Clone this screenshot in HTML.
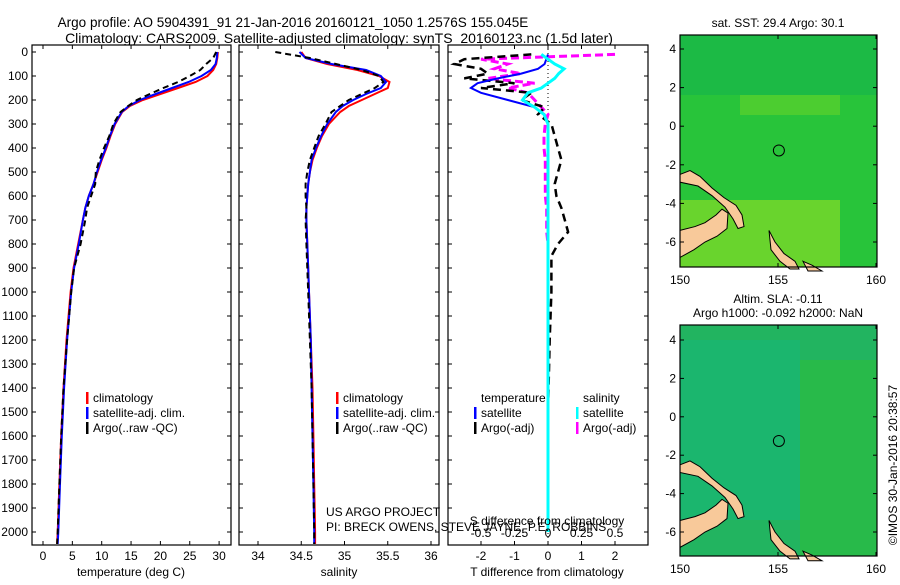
<!DOCTYPE html>
<html><head><meta charset="utf-8"><style>
body{margin:0;background:#fff;}
svg text{font-family:"Liberation Sans",sans-serif;font-size:12px;fill:#000;}
svg text.ttl{font-size:14px;}
</style></head><body>
<svg id="c" width="900" height="580" viewBox="0 0 900 580" xmlns="http://www.w3.org/2000/svg">
<text class="ttl" x="293" y="27" text-anchor="middle" style="font-size:13.5px">Argo profile: AO 5904391_91 21-Jan-2016 20160121_1050 1.2576S 155.045E</text>
<text class="ttl" x="339" y="43" text-anchor="middle">Climatology: CARS2009. Satellite-adjusted climatology: synTS_20160123.nc (1.5d later)</text>
<g id="maps"></g>
<g id="plots"></g>
</svg>
<script>
// ---- data ----
const depths = [0,25,50,75,100,125,150,175,200,225,250,300,350,400,450,500,550,600,650,700,800,900,1000,1200,1400,1600,1800,2000,2050];
const tClim  = [29.8,29.7,29.5,29.0,28.0,26.0,23.0,20.0,17.0,14.8,13.5,12.3,11.5,10.8,10.0,9.3,8.6,7.8,7.2,6.8,6.0,5.2,4.7,4.0,3.5,3.1,2.8,2.5,2.4];
const tSat   = [29.7,29.6,29.4,28.6,27.0,24.8,22.0,19.2,16.5,14.6,13.4,12.2,11.4,10.7,9.9,9.2,8.6,7.8,7.2,6.8,6.1,5.3,4.8,4.1,3.6,3.2,2.9,2.6,2.5];
const tArgo  = [29.5,29.0,27.8,26.8,25.0,23.0,20.5,18.2,16.0,14.5,13.2,12.0,11.3,10.4,9.6,9.0,8.9,8.2,7.5,7.2,6.4,5.3,4.8,4.1,3.5,3.1,2.8,2.5,2.4];
const sClim  = [34.50,34.55,34.80,35.15,35.40,35.52,35.50,35.35,35.20,35.05,34.95,34.82,34.74,34.68,34.63,34.60,34.58,34.57,34.56,34.56,34.57,34.58,34.59,34.61,34.63,34.64,34.65,34.66,34.66];
const sSat   = [34.48,34.55,34.85,35.25,35.42,35.48,35.42,35.25,35.10,34.98,34.90,34.80,34.73,34.67,34.62,34.60,34.58,34.57,34.56,34.56,34.57,34.58,34.59,34.61,34.62,34.63,34.64,34.65,34.65];
const sArgo  = [34.20,34.60,34.90,35.20,35.40,35.45,35.35,35.20,35.05,34.95,34.85,34.78,34.70,34.65,34.60,34.57,34.55,34.55,34.56,34.55,34.56,34.57,34.58,34.60,34.62,34.63,34.64,34.65,34.65];
const diffDepths = [10,30,50,70,90,110,130,150,170,200,230,260,300,350,400,450,500,550,600,650,700,750,800,850,900,1000,1200,1500,2000];
const dTSat  = [0,-0.05,-0.1,-0.3,-0.8,-1.5,-2.1,-2.3,-2.0,-1.2,-0.4,-0.1,0,0,0,0,0,0,0,0,0,0,0,0,0,0,0,0,0];
const dTArgo = [-0.5,-2.5,-2.8,-2.0,-1.8,-2.5,-1.0,-2.0,-0.5,-0.8,-0.1,-0.3,0.1,0.2,0.3,0.4,0.3,0.2,0.25,0.4,0.5,0.6,0.3,0.1,0.1,0.1,0.05,0,0];
const dSSat  = [-0.05,0,0.05,0.12,0.08,0.05,0,-0.05,-0.15,-0.19,-0.1,-0.03,0,0,0,0,0,0,0,0,0,0,0,0,0,0,0,0,0];
const dSArgo = [0.5,-0.5,-0.3,-0.4,-0.2,-0.45,-0.1,-0.3,-0.15,-0.1,-0.05,0,-0.02,-0.03,-0.03,-0.02,-0.02,-0.02,-0.02,-0.01,-0.01,-0.01,0,0,0,0,0,0,0];
const depthTicks = [0,100,200,300,400,500,600,700,800,900,1000,1100,1200,1300,1400,1500,1600,1700,1800,1900,2000];
const tTicks = [0,5,10,15,20,25,30];
const sTicks = [34,34.5,35,35.5,36];
const dTTicks = [-2,-1,0,1,2];
const dSTicks = [-0.5,-0.25,0,0.25,0.5];
const lonTicks = [150,155,160];
const latTicks = [4,2,0,-2,-4,-6];

const NS="http://www.w3.org/2000/svg";
function mk(tag,attrs,parent,txt){const e=document.createElementNS(NS,tag);for(const k in attrs)e.setAttribute(k,attrs[k]);if(txt!==undefined)e.textContent=txt;parent.appendChild(e);return e;}
const P=document.getElementById('plots'), M=document.getElementById('maps');
const yD = d => 52 + 0.24*d;
const xT = t => 43 + 5.87*t;
const xS = s => 258 + 86.5*(s-34);
const xDT = v => 548 + 33.5*v;
const xDS = v => 548 + 134*v;

function panel(x0,x1,name){
  const r=mk('rect',{x:x0,y:45,width:x1-x0,height:500,fill:'#fff',stroke:'#000','stroke-width':1.2},P);
  
  
}
panel(32,231,'temperature-panel'); panel(239,439,'salinity-panel'); panel(448,648,'difference-panel');

function line(xs,ys,xf,color,w,dash,name){
  const pts=xs.map((v,i)=>xf(v).toFixed(1)+','+yD(ys[i]).toFixed(1)).join(' ');
  const e=mk('polyline',{points:pts,fill:'none',stroke:color,'stroke-width':w},P);
  if(dash)e.setAttribute('stroke-dasharray',dash);
  
  
}
line(tClim,depths,xT,'#f00',2,null,'temp-climatology-line');
line(tSat,depths,xT,'#00f',2,null,'temp-satellite-line');
line(tArgo,depths,xT,'#000',2,'6,4','temp-argo-line');
line(sClim,depths,xS,'#f00',2,null,'sal-climatology-line');
line(sSat,depths,xS,'#00f',2,null,'sal-satellite-line');
line(sArgo,depths,xS,'#000',2,'6,4','sal-argo-line');
mk('line',{x1:548,y1:45,x2:548,y2:545,stroke:'#000','stroke-dasharray':'1,3'},P);
line(dSArgo,diffDepths,xDS,'#f0f',3,'8,4','sal-diff-argo-line');
line(dTArgo,diffDepths,xDT,'#000',2.5,'8,5','temp-diff-argo-line');
line(dTSat,diffDepths,xDT,'#00f',2,null,'temp-diff-satellite-line');
line(dSSat,diffDepths,xDS,'#0ff',3,null,'sal-diff-satellite-line');

depthTicks.forEach(d=>{
  const y=yD(d);
  [[32,1],[231,-1],[239,1],[439,-1],[448,1],[648,-1]].forEach(([x,s])=>mk('line',{x1:x,y1:y,x2:x+4*s,y2:y,stroke:'#000'},P));
  const t=mk('text',{x:28,y:y+4,'text-anchor':'end'},P,String(d));
  
  
});
function xticks(arr,f,yLab,name,top){
  arr.forEach(v=>{
    const x=f(v);
    mk('line',{x1:x,y1:545,x2:x,y2:541,stroke:'#000'},P);
    if(top) mk('line',{x1:x,y1:45,x2:x,y2:49,stroke:'#000'},P);
    const t=mk('text',{x:x,y:yLab,'text-anchor':'middle'},P,String(v));
    
    
  });
}
xticks(tTicks,xT,560,'temp-tick-label',true);
xticks(sTicks,xS,560,'sal-tick-label',true);
xticks(dTTicks,xDT,560,'tdiff-tick-label',true);
dSTicks.forEach(v=>{const t=mk('text',{x:xDS(v),y:537,'text-anchor':'middle'},P,String(v));
  
  });

function txt(x,y,s,name,anchor){const t=mk('text',{x:x,y:y,'text-anchor':anchor||'start'},P,s);
  
  return t;}
txt(131,576,'temperature (deg C)','temp-axis-title','middle');
txt(339,576,'salinity','sal-axis-title','middle');
txt(547,576,'T difference from climatology','tdiff-axis-title','middle');
txt(547,525,'S difference from climatology','sdiff-axis-title','middle');
txt(326,516,'US ARGO PROJECT','credit-line-1');
txt(326,531,'PI: BRECK OWENS, STEVE JAYNE, P.E. ROBBINS','credit-line-2');

function legend(x,y,items,name){
  items.forEach((it,i)=>{
    if(it[0]) mk('rect',{x:x,y:y+i*15-10,width:2.5,height:12,fill:it[0]},P);
    txt(x+7,y+i*15,it[1],name);
  });
}
legend(86,402,[['#f00','climatology'],['#00f','satellite-adj. clim.'],['#000','Argo(..raw -QC)']],'temp-legend-entry');
legend(336,402,[['#f00','climatology'],['#00f','satellite-adj. clim.'],['#000','Argo(..raw -QC)']],'sal-legend-entry');
legend(474,402,[[null,'temperature'],['#00f','satellite'],['#000','Argo(-adj)']],'tdiff-legend-entry');
legend(576,402,[[null,'salinity'],['#0ff','satellite'],['#f0f','Argo(-adj)']],'sdiff-legend-entry');

function map(top,bot,yFour,ySix,base,overlays,title,name){
  const g=mk('g',{},M);
  
  
  const lx=v=>680+19.6*(v-150), ly=v=>yFour+(4-v)*(ySix-yFour)/10;
  mk('rect',{x:680,y:top,width:197,height:bot-top,fill:base},g);
  overlays.forEach(o=>mk('rect',Object.assign({},o),g));
  const land=[[[680,ly(-2.5)],[690,ly(-2.3)],[700,ly(-2.6)],[712,ly(-3.2)],[724,ly(-3.7)],[736,ly(-4.1)],[742,ly(-4.6)],[744,ly(-5.2)],[738,ly(-5.3)],[733,ly(-4.8)],[725,ly(-4.2)],[712,ly(-3.6)],[698,ly(-3.1)],[680,ly(-2.9)]],
   [[680,ly(-5.4)],[695,ly(-5.2)],[705,ly(-5.0)],[716,ly(-4.6)],[722,ly(-4.3)],[728,ly(-4.5)],[727,ly(-5.3)],[717,ly(-5.7)],[705,ly(-6.0)],[694,ly(-6.4)],[680,ly(-6.8)]],
   [[769,ly(-5.4)],[775,ly(-6.0)],[784,ly(-6.6)],[795,ly(-7.0)],[799,ly(-7.4)],[790,ly(-7.4)],[780,ly(-7.0)],[771,ly(-6.4)]],
   [[803,ly(-7.0)],[812,ly(-7.2)],[822,ly(-7.5)],[808,ly(-7.5)]]];
  land.forEach(p=>mk('polygon',{points:p.map(q=>q.join(',')).join(' '),fill:'#f8c99a',stroke:'#000','stroke-width':1},g));
  mk('circle',{cx:lx(155.045),cy:ly(-1.2576),r:5.5,fill:'none',stroke:'#000','stroke-width':1},g);
  mk('rect',{x:680,y:top,width:197,height:bot-top,fill:'none',stroke:'#000','stroke-width':1.2},g);
  latTicks.forEach(v=>{const y=ly(v);
    mk('line',{x1:680,y1:y,x2:684,y2:y,stroke:'#000'},g);mk('line',{x1:877,y1:y,x2:873,y2:y,stroke:'#000'},g);
    const t=mk('text',{x:676,y:y+4,'text-anchor':'end'},g,String(v));
    
    });
  lonTicks.forEach(v=>{const x=lx(v);
    mk('line',{x1:x,y1:top,x2:x,y2:top+4,stroke:'#000'},g);mk('line',{x1:x,y1:bot,x2:x,y2:bot-4,stroke:'#000'},g);
    const t=mk('text',{x:x,y:bot+17,'text-anchor':'middle'},g,String(v));
    
    });
  title.forEach((s,i)=>{const t=mk('text',{x:778,y:top-8-(title.length-1-i)*14,'text-anchor':'middle'},g,s);
    
    });
}
map(35,267,49,242,'#28c43a',[
  {x:680,y:35,width:197,height:60,fill:'#10b050',opacity:0.5},
  {x:680,y:200,width:160,height:67,fill:'#b8e820',opacity:0.45},
  {x:740,y:95,width:100,height:20,fill:'#90e020',opacity:0.35}
],['sat. SST: 29.4 Argo: 30.1'],'sst-map');
map(325,556,340,532,'#22b460',[
  {x:680,y:340,width:120,height:180,fill:'#14b880',opacity:0.45},
  {x:800,y:360,width:77,height:196,fill:'#30c030',opacity:0.45}
],['Altim. SLA: -0.11','Argo h1000: -0.092 h2000: NaN'],'sla-map');
const imos=mk('text',{x:0,y:0,transform:'translate(897,465) rotate(-90)','text-anchor':'middle'},M,'©IMOS 30-Jan-2016 20:38:57');


</script>
</body></html>
